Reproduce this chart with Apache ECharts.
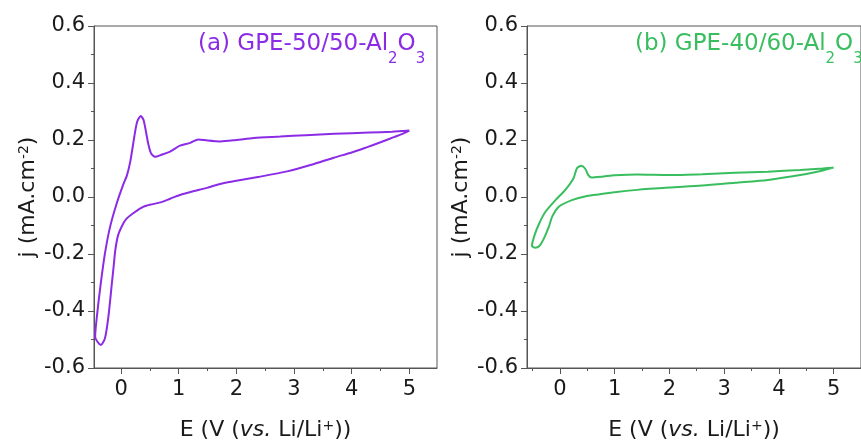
<!DOCTYPE html>
<html>
<head>
<meta charset="utf-8">
<script src="https://cdn.jsdelivr.net/npm/echarts@6/dist/echarts.min.js"></script>
<style>
  html, body { margin: 0; padding: 0; background: #ffffff; }
  #chart { width: 861px; height: 446px; }
</style>
</head>
<body>
<div id="chart"></div>
<script>
// Cyclic voltammograms of the two gel polymer electrolytes.
// Each loop is listed in sweep order: cathodic branch from 5 V down, then anodic branch back up.
const potentialA = [5.0, 4.9, 4.73, 4.5, 4.27, 4.0, 3.69, 3.3, 2.88, 2.4, 1.95, 1.7, 1.49, 1.25, 1.02, 0.85, 0.7, 0.55, 0.39, 0.21, 0.1, 0.04, -0.05, -0.1, -0.13, -0.16, -0.22, -0.28, -0.35, -0.41, -0.45,
  -0.42, -0.36, -0.28, -0.19, -0.075, 0.04, 0.1, 0.16, 0.24, 0.28, 0.34, 0.39, 0.47, 0.52, 0.59, 0.7, 0.85, 1.02, 1.2, 1.34, 1.5, 1.72, 2.0, 2.3, 2.76, 3.2, 3.7, 4.3, 4.7, 5.0];
const currentA = [0.233, 0.223, 0.21, 0.192, 0.175, 0.156, 0.138, 0.113, 0.09, 0.071, 0.055, 0.045, 0.032, 0.02, 0.007, -0.006, -0.018, -0.025, -0.034, -0.057, -0.075, -0.092, -0.133, -0.186, -0.245, -0.303, -0.42, -0.496, -0.519, -0.508, -0.49,
  -0.42, -0.315, -0.198, -0.104, -0.022, 0.045, 0.075, 0.125, 0.225, 0.265, 0.284, 0.27, 0.188, 0.153, 0.141, 0.148, 0.159, 0.18, 0.19, 0.202, 0.198, 0.195, 0.2, 0.207, 0.212, 0.217, 0.222, 0.226, 0.229, 0.233];

const potentialB = [5.0, 4.8, 4.39, 3.8, 3.2, 2.6, 2.0, 1.41, 1.0, 0.7, 0.46, 0.22, -0.02, -0.14, -0.2, -0.29, -0.375, -0.45, -0.51,
  -0.46, -0.375, -0.26, -0.08, 0.1, 0.25, 0.31, 0.39, 0.46, 0.52, 0.58, 0.8, 1.0, 1.41, 2.0, 2.6, 3.2, 3.8, 4.39, 4.8, 5.0];
const currentB = [0.103, 0.093, 0.077, 0.06, 0.05, 0.04, 0.033, 0.025, 0.017, 0.009, 0.002, -0.011, -0.034, -0.069, -0.104, -0.145, -0.172, -0.178, -0.172,
  -0.133, -0.092, -0.051, -0.011, 0.025, 0.066, 0.1, 0.11, 0.1, 0.077, 0.068, 0.072, 0.076, 0.079, 0.077, 0.08, 0.085, 0.089, 0.095, 0.1, 0.103];

const majorTicksX = [0, 1, 2, 3, 4, 5];
const minorTicksX = [-0.5, 0.5, 1.5, 2.5, 3.5, 4.5, 5.5];

const colorA = '#8b2be6';
const colorB = '#38be5e';
const axisColor = '#555555';
const textColor = '#1a1a1a';
const font = 'DejaVu Sans, Verdana, sans-serif';

function zip(xs, ys) { return xs.map((x, i) => [x, ys[i]]); }

const nameRich = {
  m: { fontSize: 22, fontFamily: font, fontWeight: 'normal', color: textColor, lineHeight: 26, verticalAlign: 'top' },
  i: { fontSize: 22, fontFamily: font, fontWeight: 'normal', color: textColor, fontStyle: 'italic', lineHeight: 26, verticalAlign: 'top' },
  sup: { fontSize: 14, fontFamily: font, fontWeight: 'normal', color: textColor, lineHeight: 14, verticalAlign: 'top' }
};

// Main text hangs from the top of the line, subscripts sit on its bottom.
function titleRich(color) {
  return {
    m: { fontSize: 23, fontFamily: font, fontWeight: 'normal', color: color, lineHeight: 27, verticalAlign: 'top' },
    s: { fontSize: 15, fontFamily: font, fontWeight: 'normal', color: color, lineHeight: 34, verticalAlign: 'bottom' }
  };
}

function xMain(gridIndex, min, max) {
  return {
    type: 'value', gridIndex, min, max, position: 'bottom',
    axisLine: { show: true, onZero: false, lineStyle: { color: axisColor, width: 1 } },
    axisTick: { show: true, inside: false, length: 6, customValues: majorTicksX, lineStyle: { color: axisColor } },
    axisLabel: { show: true, customValues: majorTicksX, margin: 11, fontSize: 21, fontFamily: font, color: textColor },
    splitLine: { show: false },
    name: '{m|E (V (}{i|vs.}{m| Li/Li}{sup|+}{m|))}',
    nameLocation: 'middle', nameGap: 51,
    nameTextStyle: { rich: nameRich }
  };
}

function xMinor(gridIndex, min, max) {
  return {
    type: 'value', gridIndex, min, max, position: 'bottom',
    axisLine: { show: false, onZero: false },
    axisTick: { show: true, inside: false, length: 3, customValues: minorTicksX, lineStyle: { color: axisColor } },
    axisLabel: { show: false },
    splitLine: { show: false }
  };
}

function yAxis(gridIndex) {
  return {
    type: 'value', gridIndex, min: -0.6, max: 0.6, interval: 0.2,
    axisLine: { show: true, onZero: false, lineStyle: { color: axisColor, width: 1 } },
    axisTick: { show: true, inside: false, length: 6, lineStyle: { color: axisColor } },
    minorTick: { show: true, splitNumber: 2, length: 3, lineStyle: { color: axisColor } },
    axisLabel: { margin: 9, fontSize: 21, fontFamily: font, color: textColor,
      formatter: v => v.toFixed(1) },
    splitLine: { show: false },
    name: '{m|j (mA.cm}{sup|-2}{m|)}',
    nameLocation: 'middle', nameGap: 51,
    nameTextStyle: { rich: nameRich }
  };
}

const chart = echarts.init(document.getElementById('chart'), null, { renderer: 'canvas' });
chart.setOption({
  animation: false,
  backgroundColor: '#ffffff',
  title: [
    { text: '{m|(a) GPE-50/50-Al}{s|2}{m|O}{s|3}', left: 198, top: 33, padding: 0,
      textStyle: { fontWeight: 'normal', rich: titleRich(colorA) } },
    { text: '{m|(b) GPE-40/60-Al}{s|2}{m|O}{s|3}', left: 635, top: 33, padding: 0,
      textStyle: { fontWeight: 'normal', rich: titleRich(colorB) } }
  ],
  grid: [
    { left: 94, top: 26, width: 343, height: 342, show: true, borderColor: axisColor, borderWidth: 1, containLabel: false },
    { left: 527, top: 26, width: 342, height: 342, show: true, borderColor: axisColor, borderWidth: 1, containLabel: false }
  ],
  xAxis: [
    xMain(0, -0.47, 5.48), xMinor(0, -0.47, 5.48),
    xMain(1, -0.6, 5.5), xMinor(1, -0.6, 5.5)
  ],
  yAxis: [yAxis(0), yAxis(1)],
  series: [
    { type: 'line', xAxisIndex: 0, yAxisIndex: 0, data: zip(potentialA, currentA),
      showSymbol: false, smooth: 0.25, lineStyle: { color: colorA, width: 2 } },
    { type: 'line', xAxisIndex: 2, yAxisIndex: 1, data: zip(potentialB, currentB),
      showSymbol: false, smooth: 0.25, lineStyle: { color: colorB, width: 2 } }
  ]
});
</script>
</body>
</html>
